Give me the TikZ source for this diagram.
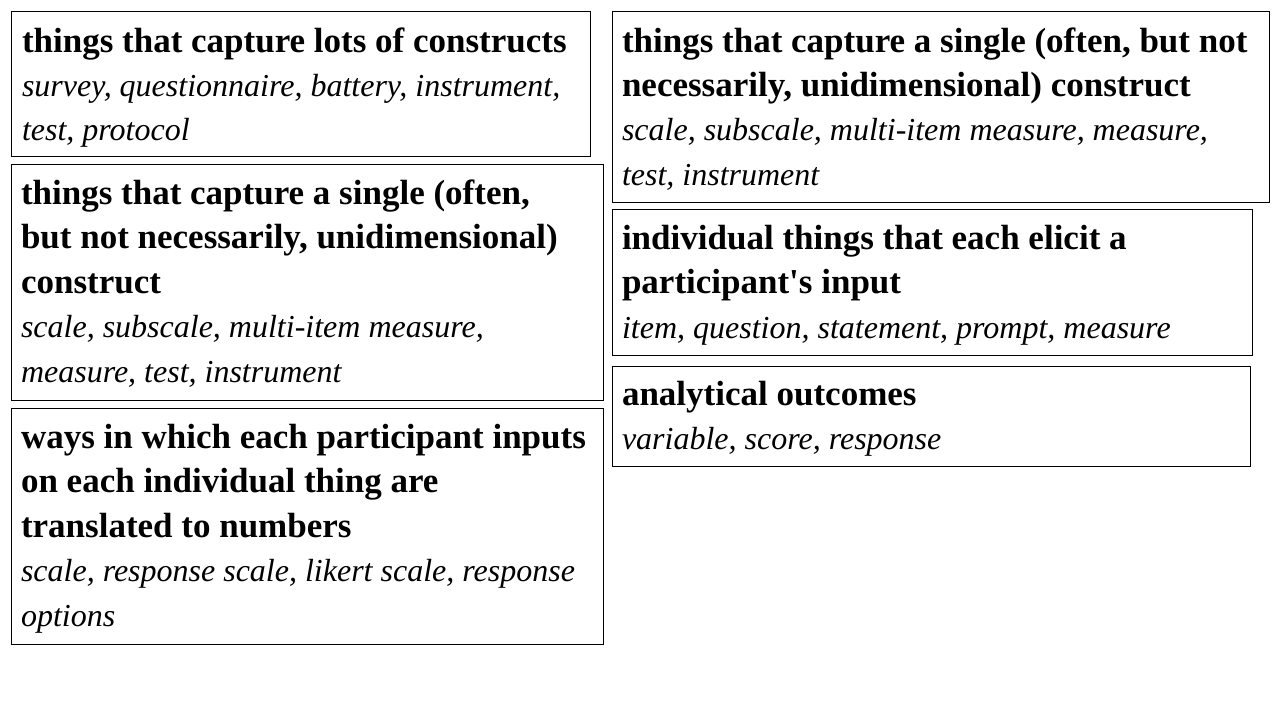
\documentclass[tikz,border=0pt]{standalone}
\usepackage{fontspec}
\setmainfont{Liberation Serif}[Ligatures=TeXOff]
% heading and example-term type, both on a shared 44.5pt line pitch
\newcommand\hd{\fontsize{35}{44.5}\selectfont\bfseries\upshape}
\newcommand\ex{\fontsize{32}{44.5}\selectfont\mdseries\itshape}
\newcommand\panelbody[1]{\parbox[t]{700pt}{\raggedright #1}}
\begin{document}
\begin{tikzpicture}[x=1pt,y=-1pt,
  panel/.style={draw, line width=1pt, inner sep=0pt, outer sep=0pt, anchor=north west},
  body/.style={inner sep=0pt, outer sep=0pt, anchor=base west}]
\useasboundingbox (0,0) rectangle (1280,720);

% left column
\node[panel, minimum width=579pt, minimum height=145pt] (boxA) at (11,11) {};
\node[body] (txtA) at (22,52) {\panelbody{\hd things that capture lots of constructs\\
  \ex survey, questionnaire, battery, instrument,\\ test, protocol}};

\node[panel, minimum width=592pt, minimum height=236pt] (boxB) at (11,164) {};
\node[body] (txtB) at (21,204) {\panelbody{\hd things that capture a single (often,\\
  but not necessarily, unidimensional)\\ construct\\
  \ex scale, subscale, multi-item measure,\\ measure, test, instrument}};

\node[panel, minimum width=592pt, minimum height=236pt] (boxC) at (11,408) {};
\node[body] (txtC) at (21,448) {\panelbody{\hd ways in which each participant inputs\\
  on each individual thing are\\ translated to numbers\\
  \ex scale, response scale, likert scale, response\\ options}};

% right column
\node[panel, minimum width=657pt, minimum height=191pt] (boxD) at (612,11) {};
\node[body] (txtD) at (622,52) {\panelbody{\hd things that capture a single (often, but not\\
  necessarily, unidimensional) construct\\
  \ex scale, subscale, multi-item measure, measure,\\ test, instrument}};

\node[panel, minimum width=640pt, minimum height=146pt] (boxE) at (612,209) {};
\node[body] (txtE) at (622,249) {\panelbody{\hd individual things that each elicit a\\
  participant's input\\
  \ex item, question, statement, prompt, measure}};

\node[panel, minimum width=638pt, minimum height=100pt] (boxF) at (612,366) {};
\node[body] (txtF) at (622,405) {\panelbody{\hd analytical outcomes\\
  \ex variable, score, response}};
\end{tikzpicture}
\end{document}
